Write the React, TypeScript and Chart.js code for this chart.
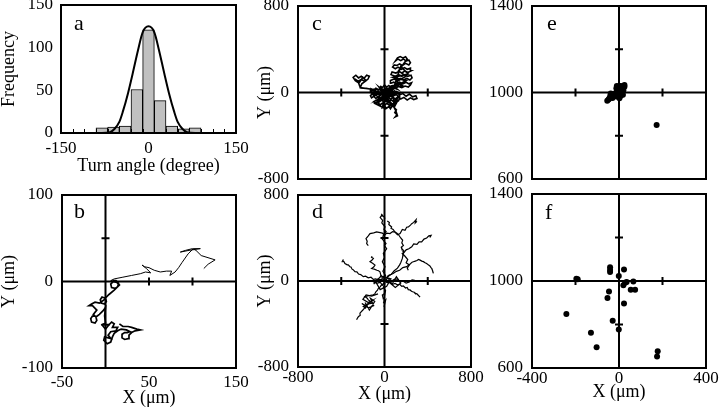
import React, { useEffect, useRef } from "react";
import { Chart, registerables } from "chart.js";
Chart.register(...registerables);

const W = 720;
const H = 413;
const FONT = '"Liberation Serif", "Times New Roman", serif';

// ---- Panel a: turn angle histogram ----
const binCenters = [-80, -60, -40, -20, 0, 20, 40, 60, 80];
const binCounts = [6, 7, 8, 51, 121, 38, 8, 5, 6];
const fitAngles = [-150, -80, -66, -58, -50, -44, -35, -27, -18, -10, 0, 10, 18, 27, 35, 44, 50, 58, 66, 80, 150];
const fitFreq = [0, 0, 1, 5, 13, 25, 47, 70, 97, 118, 125, 118, 97, 70, 47, 25, 13, 5, 1, 0, 0];
const aXTicks = [-150, 0, 150];
const aYTicks = [0, 50, 100, 150];
const aBinEdges = [-130, -110, -90, -70, -50, -30, -10, 10, 30, 50, 70, 90, 110, 130];

// ---- Panel b: single track (upper thin part, lower looped part) ----
const trackBUpper: number[][] = [
  [113, 15], [118, 20], [126, 25], [110, 30], [104, 36], [100, 38], [92, 36], [86, 34], [96, 36], [109, 38],
  [101, 38], [95, 32], [88, 22], [84, 16], [80, 11], [74, 7], [76, 12], [70, 12], [63, 11], [56, 13],
  [50, 16], [45, 17], [42, 19], [47, 15], [52, 10], [46, 11], [40, 9], [30, 7], [20, 5], [10, 3], [6, 1], [8, 1],
];
const trackBLower: number[][] = [
  [8, 1], [12, 1], [15, -2], [14, -6], [11, -8], [7, -7], [6, -3], [9, 0], [13, -1], [16, -4],
  [10, -10], [4, -15], [1, -18],
  [-1, -19], [-4, -18], [-6, -21], [-5, -25], [-1, -26], [1, -23], [0, -20],
  [-7, -25], [-12, -24], [-16, -26], [-19, -28], [-15, -28], [-10, -33], [-14, -38], [-12, -40],
  [-15, -40], [-17, -43], [-16, -47], [-12, -48], [-10, -45], [-11, -41],
  [-7, -38], [-3, -34], [0, -30], [-1, -40], [0, -48], [-4, -50], [0, -55], [4, -50], [7, -47], [10, -49],
  [8, -53], [14, -53], [12, -57], [6, -58], [3, -62], [6, -66], [-1, -64], [-2, -68], [2, -72], [6, -70],
  [8, -64], [10, -60], [14, -57], [18, -55], [24, -56], [28, -58], [25, -59],
  [22, -59], [19, -61], [19, -65], [22, -67], [26, -66], [27, -62],
  [30, -59], [34, -57], [40, -56], [36, -55], [30, -53], [26, -52], [20, -52], [16, -49],
];
const bXTicks = [-50, 50, 150];
const bYTicks = [-100, 0, 100];

// ---- Panel c: dense track ----
const trackC: number[][] = [
  [-40, 60], [-20, 45], [0, 70], [20, 50], [40, 65], [60, 45], [80, 62], [100, 48],
  [120, 30], [95, 40], [70, 22], [50, 42], [30, 25], [10, 40], [-10, 22], [-30, 38], [-55, 25], [-80, 40], [-100, 22], [-125, 35],
  [-130, 5], [-105, 18], [-85, 0], [-60, 15], [-40, -5], [-20, 12], [0, -8], [20, 15], [45, -5], [65, 12], [90, -6], [110, 10], [135, -5],
  [140, -20], [115, -8], [95, -28], [70, -10], [50, -30], [25, -12], [5, -30], [-15, -10], [-40, -28], [-65, -12], [-90, -30], [-115, -15], [-130, -30],
  [-120, -50], [-100, -35], [-80, -55], [-55, -38], [-35, -58], [-10, -40], [10, -60], [35, -42], [55, -62], [80, -45], [100, -60], [125, -40], [140, -55],
  [130, -75], [105, -62], [85, -85], [60, -68], [40, -88], [15, -70], [-5, -90], [-25, -70], [-50, -88], [-75, -72], [-100, -85],
  [-80, -105], [-60, -95], [-40, -115], [-20, -98], [0, -120], [20, -100], [45, -118], [65, -100], [90, -115], [110, -98],
  [90, -135], [70, -125], [55, -150], [40, -130], [20, -145], [0, -128], [-20, -140],
  [-10, -100], [30, -50], [-40, 0], [60, 30], [-20, -60], [100, -20], [20, 40], [-60, -50], [40, -80], [-30, 10], [80, -30],
  [90, -140], [110, -160], [95, -185], [115, -205], [100, -225], [120, -215], [105, -170], [80, -120],
  [140, -20], [170, -10], [200, -35], [230, -15], [260, -40], [290, -30], [300, -55], [270, -65], [240, -50], [210, -70],
  [180, -45], [150, -60], [120, -30],
  [60, 30], [80, 50], [100, 40], [130, 55], [160, 45], [190, 60], [220, 50], [240, 70],
  [250, 90], [225, 80], [200, 95], [170, 80], [140, 95], [110, 80], [85, 95], [60, 85],
  [55, 110], [90, 125], [115, 110], [145, 130], [175, 115], [205, 130], [235, 115], [255, 135],
  [245, 160], [215, 150], [190, 165], [160, 150], [130, 165], [100, 150], [60, 165],
  [70, 190], [105, 180], [135, 195], [160, 180], [190, 200], [215, 185], [245, 200],
  [240, 225], [210, 215], [185, 230], [155, 215], [125, 235], [100, 220], [75, 235],
  [90, 255], [115, 250], [140, 265], [165, 250], [195, 270], [225, 255], [240, 275],
  [225, 300], [200, 290], [175, 310], [150, 295], [125, 310], [100, 290],
  [120, 320], [145, 332], [170, 320], [195, 330], [210, 310],
  [180, 270], [130, 200], [200, 150], [110, 100], [170, 60], [90, 60], [150, 240], [220, 170], [80, 140], [200, 110],
  [130, 75], [60, 60], [20, 20],
  [-60, 30], [-120, 30], [-170, 38], [-220, 42], [-230, 60], [-240, 90], [-270, 110], [-290, 140], [-265, 160], [-240, 135],
  [-215, 150], [-190, 130], [-165, 160], [-140, 150], [-155, 120], [-185, 105], [-215, 120], [-250, 100], [-275, 125],
  [-230, 95], [-200, 140], [-170, 110], [-210, 80], [-225, 45], [-150, 35], [-90, 20], [-30, -20], [30, -30],
  [-70, -70], [50, 10], [-110, -10], [70, -110], [-50, 50], [120, -80], [10, -150], [-90, -100], [100, 20],
];
const cdTicks = [-800, 0, 800];

// ---- Panel d: several tracks ----
const tracksD: number[][][] = [
  [[-11, 9], [10, 50], [-15, 90], [5, 133], [-20, 180], [0, 220], [-11, 256], [20, 300], [0, 330], [14, 348], [-20, 390],
    [-11, 425], [15, 460], [-5, 480], [5, 503], [-25, 540], [-17, 564], [-40, 590], [-26, 610], [-10, 600], [-30, 625]],
  [[-5, 420], [20, 445], [51, 441], [75, 460], [97, 456], [120, 430], [144, 441], [165, 480], [190, 472], [205, 500],
    [221, 503], [240, 520], [252, 533], [270, 545], [292, 570], [285, 540], [300, 555]],
  [[26, 558], [45, 545], [40, 525], [66, 503], [60, 490], [80, 480], [97, 456], [115, 445], [130, 430], [150, 400],
    [168, 379], [160, 355], [175, 330], [155, 315], [160, 300], [180, 280], [174, 256]],
  [[0, 430], [-20, 445], [-40, 450], [-73, 456], [-100, 448], [-134, 441], [-150, 420], [-171, 395], [-160, 370], [-165, 348], [-150, 330]],
  [[10, 20], [35, 50], [60, 60], [90, 95], [120, 120], [140, 150], [150, 170], [165, 210], [174, 256], [200, 290],
    [225, 300], [252, 318], [270, 345], [300, 340], [320, 365], [344, 364], [365, 390], [390, 400], [410, 420], [431, 425], [420, 405]],
  [[0, 0], [-30, 15], [-60, 10], [-80, 20], [-103, 15], [-125, 35], [-150, 30], [-175, 45], [-196, 40], [-220, 60],
    [-240, 65], [-255, 85], [-273, 86], [-290, 105], [-300, 110], [-310, 130], [-320, 133], [-335, 150], [-345, 150],
    [-366, 163], [-375, 180], [-387, 188], [-380, 200], [-395, 175]],
  [[0, -5], [25, -15], [50, -10], [75, -30], [97, -22], [120, -35], [140, -30], [160, -50], [174, -46], [195, -65],
    [210, -60], [220, -80], [236, -83], [250, -95], [260, -100], [275, -105], [282, -114], [300, -120], [310, -130], [320, -140], [329, -151]],
  [[20, 30], [50, 55], [80, 70], [110, 90], [140, 100], [170, 125], [205, 133], [225, 150], [240, 160], [255, 175],
    [267, 179], [285, 185], [300, 190], [315, 200], [329, 194], [345, 185], [360, 180], [375, 170], [390, 163],
    [405, 150], [420, 140], [430, 125], [437, 117], [445, 95], [452, 71], [445, 90]],
  [[0, -10], [-15, -30], [-30, -40], [-40, -55], [-57, -68], [-65, -85], [-80, -100], [-90, -120], [-103, -129],
    [-140, -135], [-181, -145], [-160, -160], [-150, -176], [-130, -190], [-119, -207], [-160, -215], [-196, -237],
    [-175, -250], [-160, -220], [-200, -270], [-227, -299], [-225, -320], [-240, -330], [-250, -345], [-258, -361]],
  [[-60, -120], [-120, -140], [-170, -130], [-200, -170], [-150, -200], [-110, -180], [-170, -230], [-210, -210],
    [-150, -250], [-100, -230], [-130, -160], [-90, -190], [-140, -270], [-180, -200]],
  [[-30, 30], [-35, 60], [-42, 86], [-55, 95], [-70, 100], [-95, 110], [-119, 117], [-100, 130], [-88, 148],
    [-110, 165], [-134, 179], [-115, 195], [-103, 210], [-120, 220], [-115, 230]],
  [[5, -20], [-10, -60], [10, -90], [5, -114], [-20, -130], [-15, -150], [5, -175], [-11, -207], [10, -180], [-5, -240]],
  [[-120, 5], [-90, -15], [-60, -20], [-30, 5], [0, 10], [30, -10], [60, -5], [90, 15], [120, 20], [145, -10],
    [170, 0], [200, -20], [230, -10], [255, 10], [280, 5]],
  [[-100, -30], [-60, 20], [-20, -40], [30, 30], [70, -30], [110, 40], [150, -20], [100, -60], [40, -10], [-30, 50],
    [-80, -10], [-40, -80], [20, -50], [60, 20], [-10, 40], [-50, -20]],
  [[160, 260], [190, 230], [215, 200], [200, 170], [230, 150], [210, 120], [220, 100]],
];

// ---- Panel e / f: end points ----
const pointsE: number[][] = [
  [-54, 962], [-44, 973], [-34, 984], [-26, 993], [-14, 999], [-8, 1012], [-3, 1024], [2, 1030], [9, 1030],
  [17, 1019], [25, 1027], [3, 1008], [-3, 993], [-11, 981], [12, 996], [2, 973], [-10, 1030], [0, 1020],
  [10, 1015], [20, 1010], [-5, 1005], [5, 1000], [15, 1003], [-20, 990], [-30, 975], [-40, 985], [-48, 968],
  [-38, 995], [8, 985], [18, 990], [25, 1035], [-12, 1020], [173, 850],
];
const pointsF: number[][] = [
  [-41, 1063], [-41, 1051], [-41, 1041], [23, 1053], [-1, 1023], [-196, 1010], [-190, 1008], [20, 980], [28, 992],
  [35, 995], [66, 998], [54, 960], [74, 960], [-46, 952], [-53, 922], [23, 897], [-242, 848], [-29, 817],
  [-1, 777], [-129, 762], [-103, 695], [178, 677], [175, 653],
];
const efXTicks = [-400, 0, 400];
const efYTicks = [600, 1000, 1400];

type PanelCfg = {
  rect: [number, number, number, number];
  padLeft: number;
  xMin: number; xMax: number; yMin: number; yMax: number;
  xTicks: number[]; yTicks: number[];
  xLabels: boolean; xPad: number; xH: number; yPad: number;
  xTitle?: string; yTitle?: string;
  cross?: [number, number];
  crossX?: number[]; crossY?: number[];
  bottomTicks?: number[];
  letter: string; letterPos: [number, number];
};

const decor = {
  id: "decor",
  beforeDatasetsDraw(chart: any, _a: any, o: any) {
    const { ctx, chartArea: a, scales } = chart;
    const x = scales.x, y = scales.y;
    ctx.save();
    ctx.strokeStyle = "#000";
    ctx.lineWidth = 2;
    if (o.cross) {
      const px = x.getPixelForValue(o.cross[0]);
      const py = y.getPixelForValue(o.cross[1]);
      ctx.beginPath();
      ctx.moveTo(px, a.top); ctx.lineTo(px, a.bottom);
      ctx.moveTo(a.left, py); ctx.lineTo(a.right, py);
      ctx.stroke();
      ctx.beginPath();
      (o.crossX || []).forEach((v: number) => {
        const tx = x.getPixelForValue(v);
        ctx.moveTo(tx, py - 4); ctx.lineTo(tx, py + 4);
      });
      (o.crossY || []).forEach((v: number) => {
        const ty = y.getPixelForValue(v);
        ctx.moveTo(px - 4, ty); ctx.lineTo(px + 4, ty);
      });
      ctx.stroke();
    }
    ctx.restore();
  },
  afterDatasetsDraw(chart: any, _a: any, o: any) {
    const { ctx, chartArea: a, scales } = chart;
    ctx.save();
    ctx.strokeStyle = "#000";
    if (o.bottomTicks) {
      ctx.lineWidth = 1;
      ctx.beginPath();
      o.bottomTicks.forEach((v: number) => {
        const tx = Math.round(scales.x.getPixelForValue(v)) + 0.5;
        ctx.moveTo(tx, a.bottom); ctx.lineTo(tx, a.bottom - 4);
      });
      ctx.stroke();
    }
    ctx.lineWidth = 2;
    ctx.strokeRect(a.left, a.top, a.right - a.left, a.bottom - a.top);
    ctx.fillStyle = "#000";
    ctx.font = `22px ${FONT}`;
    ctx.textBaseline = "alphabetic";
    ctx.textAlign = "left";
    ctx.fillText(o.letter, o.letterPos[0], o.letterPos[1]);
    ctx.restore();
  },
};

function buildOptions(p: PanelCfg): any {
  const [L, T, R, B] = p.rect;
  const tickFont = { family: FONT, size: 17, lineHeight: 1 };
  const titleFont = { family: FONT, size: 18, lineHeight: 1 };
  return {
    responsive: false,
    animation: false,
    events: [],
    devicePixelRatio: 1,
    layout: { padding: { left: p.padLeft, top: T, right: W - R, bottom: H - B - p.xH } },
    plugins: {
      legend: { display: false },
      tooltip: { enabled: false },
      decor: {
        cross: p.cross, crossX: p.crossX, crossY: p.crossY, bottomTicks: p.bottomTicks,
        letter: p.letter, letterPos: p.letterPos,
      },
    },
    scales: {
      x: {
        type: "linear",
        position: "bottom",
        min: p.xMin, max: p.xMax, offset: false,
        grid: { display: false, drawTicks: false },
        border: { display: false },
        ticks: {
          display: p.xLabels, autoSkip: false, maxRotation: 0, minRotation: 0,
          padding: p.xPad, color: "#000", font: tickFont,
          callback: (v: any) => String(v),
        },
        afterBuildTicks: (s: any) => { s.ticks = p.xTicks.map((v) => ({ value: v })); },
        title: { display: !!p.xTitle, text: p.xTitle || "", color: "#000", font: titleFont, padding: 0 },
        afterFit: (s: any) => {
          s.height = p.xH; s.paddingLeft = 0; s.paddingRight = 0; s.paddingTop = 0; s.paddingBottom = 0;
        },
      },
      y: {
        type: "linear",
        position: "left",
        min: p.yMin, max: p.yMax,
        grid: { display: false, drawTicks: false },
        border: { display: false },
        ticks: {
          autoSkip: false, padding: p.yPad, color: "#000", font: tickFont,
          callback: (v: any) => String(v),
        },
        afterBuildTicks: (s: any) => { s.ticks = p.yTicks.map((v) => ({ value: v })); },
        title: { display: !!p.yTitle, text: p.yTitle || "", color: "#000", font: titleFont, padding: 0 },
        afterFit: (s: any) => {
          s.width = L - p.padLeft; s.paddingLeft = 0; s.paddingRight = 0; s.paddingTop = 0; s.paddingBottom = 0;
        },
      },
    },
  };
}

const toXY = (arr: number[][]) => arr.map(([x, y]) => ({ x, y }));
const lineDs = (arr: number[][], w = 1) => ({
  data: toXY(arr), showLine: true, borderColor: "#000", borderWidth: w, pointRadius: 0, tension: 0, fill: false,
});
const dotDs = (arr: number[][]) => ({
  data: toXY(arr), showLine: false, backgroundColor: "#000", borderColor: "#000", pointRadius: 3, borderWidth: 0,
});

const panels: { cfg: PanelCfg; type: string; datasets: any[] }[] = [
  {
    type: "bar",
    cfg: {
      rect: [61, 5, 236, 133], padLeft: 0, xMin: -150, xMax: 150, yMin: 0, yMax: 150,
      xTicks: aXTicks, yTicks: aYTicks, xLabels: true, xPad: 7, xH: 42, yPad: 8,
      xTitle: "Turn angle (degree)", yTitle: "Frequency", bottomTicks: aBinEdges,
      letter: "a", letterPos: [74, 30],
    },
    datasets: [
      {
        type: "line", data: fitAngles.map((x, i) => ({ x, y: fitFreq[i] })), borderColor: "#000", borderWidth: 2,
        pointRadius: 0, cubicInterpolationMode: "monotone", order: 0,
      },
      {
        type: "bar", data: binCenters.map((x, i) => ({ x, y: binCounts[i] })), backgroundColor: "#c0c0c0",
        borderColor: "#000", borderWidth: 1, barPercentage: 1, categoryPercentage: 1, order: 1,
      },
    ],
  },
  {
    type: "scatter",
    cfg: {
      rect: [62, 195, 236, 368], padLeft: 0, xMin: -50, xMax: 150, yMin: -100, yMax: 100,
      xTicks: bXTicks, yTicks: bYTicks, xLabels: true, xPad: 6.5, xH: 39, yPad: 9,
      xTitle: "X (μm)", yTitle: "Y (μm)", cross: [0, 0], crossX: [50, 100], crossY: [50, -50],
      letter: "b", letterPos: [74, 218],
    },
    datasets: [lineDs(trackBUpper, 1), lineDs(trackBLower, 1.7)],
  },
  {
    type: "scatter",
    cfg: {
      rect: [298, 6, 471, 179], padLeft: 256, xMin: -800, xMax: 800, yMin: -800, yMax: 800,
      xTicks: cdTicks, yTicks: cdTicks, xLabels: false, xPad: 0, xH: 0, yPad: 9,
      yTitle: "Y (μm)", cross: [0, 0], crossX: [-400, 400], crossY: [-400, 400],
      letter: "c", letterPos: [312, 30],
    },
    datasets: [lineDs(trackC, 1.6)],
  },
  {
    type: "scatter",
    cfg: {
      rect: [298, 195, 471, 367], padLeft: 256, xMin: -800, xMax: 800, yMin: -800, yMax: 800,
      xTicks: cdTicks, yTicks: cdTicks, xLabels: true, xPad: 2.5, xH: 36, yPad: 9,
      xTitle: "X (μm)", yTitle: "Y (μm)", cross: [0, 0], crossX: [-400, 400], crossY: [-400, 400],
      letter: "d", letterPos: [312, 218],
    },
    datasets: tracksD.map((t) => lineDs(t, 1.2)),
  },
  {
    type: "scatter",
    cfg: {
      rect: [532, 6, 706, 179], padLeft: 480, xMin: -400, xMax: 400, yMin: 600, yMax: 1400,
      xTicks: efXTicks, yTicks: efYTicks, xLabels: false, xPad: 0, xH: 0, yPad: 9,
      cross: [0, 1000], crossX: [-200, 200], crossY: [800, 1200],
      letter: "e", letterPos: [547, 30],
    },
    datasets: [dotDs(pointsE)],
  },
  {
    type: "scatter",
    cfg: {
      rect: [532, 194, 706, 368], padLeft: 480, xMin: -400, xMax: 400, yMin: 600, yMax: 1400,
      xTicks: efXTicks, yTicks: efYTicks, xLabels: true, xPad: 2, xH: 33.5, yPad: 9,
      xTitle: "X (μm)", cross: [0, 1000], crossX: [-200, 200], crossY: [800, 1200],
      letter: "f", letterPos: [545, 219],
    },
    datasets: [dotDs(pointsF)],
  },
];

function Panel({ idx }: { idx: number }) {
  const ref = useRef<HTMLCanvasElement>(null);
  useEffect(() => {
    const p = panels[idx];
    const chart = new Chart(ref.current as HTMLCanvasElement, {
      type: p.type as any,
      data: { datasets: p.datasets },
      options: buildOptions(p.cfg),
      plugins: [decor as any],
    });
    return () => chart.destroy();
  }, [idx]);
  return (
    <canvas
      ref={ref}
      width={W}
      height={H}
      style={{ position: "absolute", left: 0, top: 0, width: W, height: H }}
    />
  );
}

export default function App() {
  return (
    <div style={{ position: "absolute", left: 0, top: 0, width: W, height: H, background: "#fff" }}>
      {panels.map((_, i) => (
        <Panel key={i} idx={i} />
      ))}
    </div>
  );
}
